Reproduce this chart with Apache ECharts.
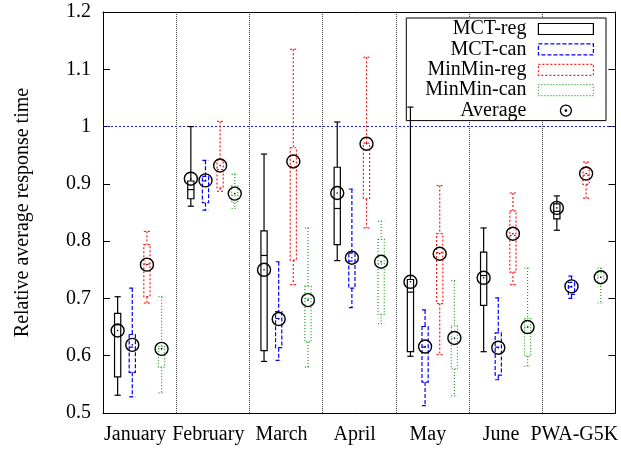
<!DOCTYPE html>
<html>
<head>
<meta charset="utf-8">
<script src="https://cdn.jsdelivr.net/npm/echarts@6/dist/echarts.min.js"></script>
<style>html,body{margin:0;padding:0;background:#fff}#chart{width:621px;height:450px}</style>
</head>
<body>
<div id="chart"></div>
<script>
// ---- data ----
const categories = ['January', 'February', 'March', 'April', 'May', 'June', 'PWA-G5K'];
const seriesNames = ['MCT-reg', 'MCT-can', 'MinMin-reg', 'MinMin-can'];
const yTicks = { min: 0.5, max: 1.2, step: 0.1 };
const referenceValue = 1;

// each row: [whisker min, box low, median, box high, whisker max]
const mctReg = [
  [0.531, 0.563, 0.654, 0.674, 0.703],
  [0.861, 0.874, 0.890, 0.905, 1.000],
  [0.590, 0.609, 0.775, 0.818, 0.952],
  [0.766, 0.794, 0.857, 0.929, 1.008],
  [0.599, 0.607, 0.711, 0.733, 1.034],
  [0.607, 0.688, 0.740, 0.781, 0.823],
  [0.819, 0.839, 0.852, 0.865, 0.879]
];
const mctCan = [
  [0.528, 0.571, 0.615, 0.637, 0.718],
  [0.854, 0.867, 0.905, 0.913, 0.941],
  [0.592, 0.614, 0.665, 0.677, 0.764],
  [0.684, 0.718, 0.765, 0.779, 0.891],
  [0.513, 0.554, 0.615, 0.651, 0.680],
  [0.558, 0.566, 0.615, 0.640, 0.701],
  [0.700, 0.707, 0.720, 0.728, 0.739]
];
const minMinReg = [
  [0.692, 0.703, 0.760, 0.794, 0.817],
  [0.887, 0.893, 0.925, 0.942, 1.009],
  [0.724, 0.767, 0.930, 0.963, 1.135],
  [0.823, 0.874, 0.960, 0.971, 1.121],
  [0.602, 0.691, 0.780, 0.813, 0.897],
  [0.724, 0.746, 0.810, 0.853, 0.884],
  [0.875, 0.899, 0.915, 0.928, 0.938]
];
const minMinCan = [
  [0.535, 0.580, 0.612, 0.616, 0.703],
  [0.857, 0.867, 0.880, 0.896, 0.917],
  [0.580, 0.624, 0.700, 0.721, 0.823],
  [0.656, 0.672, 0.760, 0.803, 0.835],
  [0.530, 0.577, 0.630, 0.652, 0.731],
  [0.582, 0.599, 0.650, 0.665, 0.753],
  [0.692, 0.727, 0.737, 0.745, 0.753]
];
// averages per series, per category
const mctRegAvg    = [0.644, 0.909, 0.750, 0.884, 0.729, 0.736, 0.858];
const mctCanAvg    = [0.619, 0.906, 0.664, 0.771, 0.616, 0.614, 0.721];
const minMinRegAvg = [0.759, 0.932, 0.939, 0.970, 0.778, 0.813, 0.918];
const minMinCanAvg = [0.612, 0.883, 0.697, 0.764, 0.631, 0.650, 0.737];

// ---- styles ----
const FONT = 'Liberation Serif';
const styles = [
  { color: '#000000', dash: null, offset: -0.3 },
  { color: '#0000ff', dash: [4, 2], offset: -0.1 },
  { color: '#ff1a1a', dash: [2, 2], offset: 0.1 },
  { color: '#1a9e1a', dash: [1, 2], offset: 0.3 }
];
const boxSets = [mctReg, mctCan, minMinReg, minMinCan];
const avgSets = [mctRegAvg, mctCanAvg, minMinRegAvg, minMinCanAvg];

function boxRenderer(st) {
  return function (params, api) {
    const cat = api.value(0);
    const band = api.size([1, 0])[0];
    const cx = api.coord([cat, api.value(3)])[0] + st.offset * band;
    const y = [1, 2, 3, 4, 5].map(d => api.coord([cat, api.value(d)])[1]);
    const w = band * 0.085;
    const mk = () => ({ stroke: st.color, lineWidth: 1.2, lineDash: st.dash, fill: null });
    const line = (x1, y1, x2, y2) => ({ type: 'line', shape: { x1, y1, x2, y2 }, style: mk() });
    return {
      type: 'group',
      children: [
        line(cx, y[4], cx, y[3]),
        line(cx, y[1], cx, y[0]),
        line(cx - w / 2, y[4], cx + w / 2, y[4]),
        line(cx - w / 2, y[0], cx + w / 2, y[0]),
        { type: 'rect', shape: { x: cx - w / 2, y: y[3], width: w, height: y[1] - y[3] }, style: mk() },
        line(cx - w / 2, y[2], cx + w / 2, y[2])
      ]
    };
  };
}

function avgRenderer(params, api) {
  const cat = api.value(0);
  const s = api.value(1);
  const band = api.size([1, 0])[0];
  const p = api.coord([cat, api.value(2)]);
  const cx = p[0] + styles[s].offset * band;
  return {
    type: 'group',
    children: [
      { type: 'circle', shape: { cx, cy: p[1], r: 6.5 }, style: { stroke: '#000', lineWidth: 1.4, fill: null } },
      { type: 'circle', shape: { cx, cy: p[1], r: 0.8 }, style: { fill: '#000' } }
    ]
  };
}

const series = seriesNames.map((name, i) => ({
  name,
  type: 'custom',
  z: 5,
  itemStyle: { color: styles[i].color },
  renderItem: boxRenderer(styles[i]),
  encode: { x: 0, y: [1, 2, 3, 4, 5] },
  data: boxSets[i].map((r, c) => [c].concat(r))
}));

const avgData = [];
avgSets.forEach((arr, s) => arr.forEach((v, c) => avgData.push([c, s, v])));
series.push({
  name: 'Average',
  type: 'custom',
  z: 6,
  itemStyle: { color: '#000' },
  renderItem: avgRenderer,
  encode: { x: 0, y: 2 },
  data: avgData,
  markLine: {
    silent: true,
    symbol: 'none',
    label: { show: false },
    lineStyle: { color: '#1a1aff', type: [2, 2], width: 1.2, opacity: 1 },
    emphasis: { disabled: true },
    data: [{ yAxis: referenceValue }]
  }
});

const legendItem = (name, i) => ({
  name,
  icon: 'rect',
  itemStyle: { color: 'transparent', borderColor: styles[i].color, borderWidth: 1.2, borderType: styles[i].dash ? styles[i].dash : 'solid' }
});

const option = {
  animation: false,
  backgroundColor: '#fff',
  textStyle: { fontFamily: FONT },
  grid: { left: 103, right: 3, top: 12, bottom: 37, containLabel: false },
  legend: {
    orient: 'vertical',
    align: 'right',
    right: 15,
    top: 18,
    itemWidth: 55,
    itemHeight: 11,
    itemGap: 0.4,
    padding: [1, 12, 0, 19],
    backgroundColor: '#fff',
    borderColor: '#000',
    borderWidth: 1,
    selectedMode: false,
    textStyle: { fontFamily: FONT, fontSize: 20, color: '#000', lineHeight: 20, padding: [0, 7, 0, 0] },
    data: seriesNames.map(legendItem).concat([{
      name: 'Average',
      icon: 'path://M13,6.5A6.5,6.5,0,1,1,0,6.5A6.5,6.5,0,1,1,13,6.5ZM7.3,6.5A0.8,0.8,0,1,1,5.7,6.5A0.8,0.8,0,1,1,7.3,6.5Z',
      itemStyle: { color: 'transparent', borderColor: '#000', borderWidth: 1.3 }
    }])
  },
  xAxis: [{
    type: 'category',
    data: categories,
    boundaryGap: true,
    axisLine: { lineStyle: { color: '#000', width: 1 } },
    axisTick: { inside: true, length: 6, lineStyle: { color: '#000' } },
    axisLabel: { fontFamily: FONT, fontSize: 20, color: '#000', margin: 12, interval: 0, padding: [0, 9, 0, 0] },
    splitLine: { show: true, lineStyle: { color: '#444', type: 'dotted', width: 1 } }
  }, {
    type: 'category',
    data: categories,
    position: 'top',
    boundaryGap: true,
    axisLine: { lineStyle: { color: '#000', width: 1 } },
    axisTick: { inside: true, length: 6, lineStyle: { color: '#000' } },
    axisLabel: { show: false },
    splitLine: { show: false }
  }],
  yAxis: [{
    type: 'value',
    min: yTicks.min,
    max: yTicks.max,
    interval: yTicks.step,
    name: 'Relative average response time',
    nameLocation: 'middle',
    nameGap: 70,
    nameTextStyle: { fontFamily: FONT, fontSize: 20, color: '#000' },
    axisLine: { show: true, lineStyle: { color: '#000', width: 1 } },
    axisTick: { show: true, inside: true, length: 7, lineStyle: { color: '#000' } },
    axisLabel: { fontFamily: FONT, fontSize: 20, color: '#000', margin: 12 },
    splitLine: { show: false }
  }, {
    type: 'value',
    position: 'right',
    min: yTicks.min,
    max: yTicks.max,
    interval: yTicks.step,
    axisLine: { show: true, lineStyle: { color: '#000', width: 1 } },
    axisTick: { show: true, inside: true, length: 7, lineStyle: { color: '#000' } },
    axisLabel: { show: false },
    splitLine: { show: false }
  }],
  series
};

const chart = echarts.init(document.getElementById('chart'), null, { renderer: 'canvas' });
chart.setOption(option);
</script>
</body>
</html>
